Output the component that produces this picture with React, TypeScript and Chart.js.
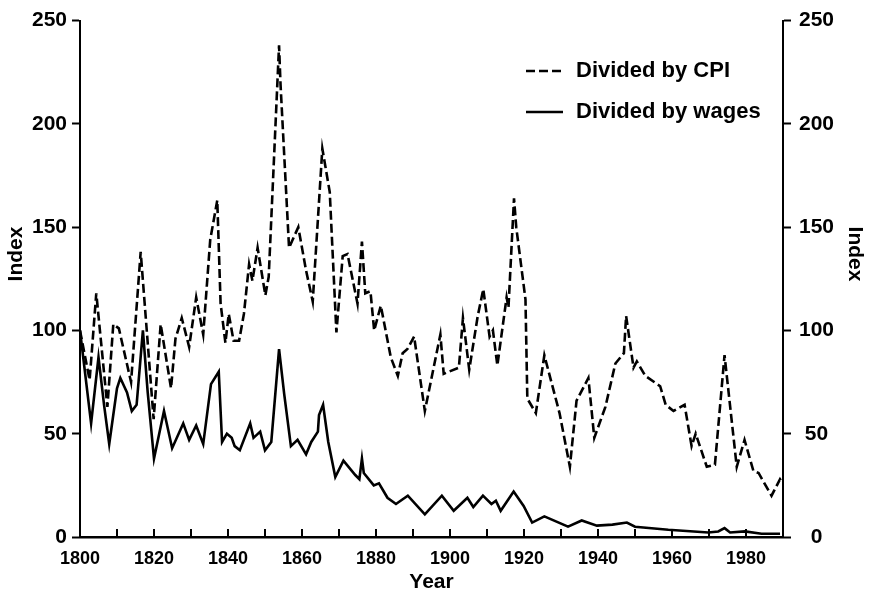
import React, { useEffect, useRef } from "react";
import { Chart, registerables } from "chart.js";

Chart.register(...registerables);

const cpiYears = [1800, 1802.6, 1804.4, 1807.4, 1809, 1810.5, 1813.8, 1816.4, 1819.9, 1821.8, 1824.6, 1825.8, 1827.5, 1829.5, 1831.4, 1833.3, 1835.2, 1837.1, 1838, 1839.3, 1840.2, 1841.5, 1843, 1844.3, 1845.7, 1846.6, 1848, 1850.1, 1851, 1853.8, 1854.2, 1856.5, 1859, 1861.1, 1862.9, 1865.5, 1867.5, 1869.3, 1871, 1872.3, 1875, 1876.2, 1877.1, 1878.5, 1879.5, 1881.3, 1884, 1885.9, 1887.2, 1888.5, 1890.3, 1893.2, 1897.4, 1898.3, 1902.4, 1903.5, 1905.2, 1907.5, 1909, 1910.7, 1911.6, 1912.8, 1915.3, 1915.8, 1917.3, 1917.9, 1920.4, 1920.9, 1923.2, 1925.5, 1929.6, 1932.4, 1934.2, 1937.4, 1939, 1942, 1944.7, 1947, 1947.6, 1949.6, 1950.5, 1952.8, 1956.8, 1958.3, 1960.4, 1963.4, 1965.3, 1966.4, 1969.4, 1971.6, 1974.2, 1977.5, 1979.6, 1982, 1983.4, 1986.9, 1989.2, 1990];
const cpiValues = [100, 76, 118, 63, 103, 101, 75, 138, 57, 103, 72, 96, 106, 92, 116, 98, 144, 163, 113, 94, 108, 95, 95, 108, 132, 124, 140, 117, 126, 238, 219, 140, 150, 129, 114, 188, 167, 99, 136, 137, 113, 143, 118, 119, 100, 112, 87, 78, 89, 91, 97, 61, 98, 79, 82, 106, 81, 107, 120, 97, 100, 83, 116, 111, 164, 150, 115, 67, 60, 88, 60, 34, 66, 77, 48, 63, 84, 89, 107, 82, 85, 78, 73, 64, 61, 64, 44, 50, 34, 35, 88, 34, 47, 32, 31, 20, 28, 26];

const wageYears = [1800, 1803, 1805, 1806.5, 1807.9, 1810, 1810.9, 1812.7, 1814, 1815.3, 1817, 1818.3, 1820, 1822.7, 1824.9, 1827.9, 1829.5, 1831.4, 1833.3, 1835.4, 1837.5, 1838.4, 1839.7, 1841, 1841.8, 1843.2, 1846, 1846.9, 1848.7, 1850, 1851.7, 1853.8, 1855.2, 1857, 1858.8, 1861.1, 1862.5, 1864.3, 1864.6, 1865.7, 1867.1, 1869, 1871.2, 1874.4, 1875.5, 1876.2, 1876.7, 1879.4, 1880.8, 1883.1, 1885.4, 1888.6, 1893.2, 1897.8, 1901, 1904.7, 1906.3, 1908.9, 1911.2, 1912.4, 1913.7, 1917.2, 1919.9, 1922.2, 1925.5, 1931.9, 1935.6, 1939.7, 1943.9, 1947.8, 1950, 1959, 1969.8, 1972.5, 1974.2, 1975.7, 1979.7, 1984.2, 1989.2];
const wageValues = [100, 55, 87, 64, 45, 72, 77, 70, 61, 64, 100, 70, 38, 61, 43, 55, 47, 54, 45, 74, 80, 46, 50, 48, 44, 42, 55, 48, 51, 42, 46, 91, 69, 44, 47, 40, 46, 51, 59, 64, 46, 29, 37, 30, 28, 38, 31, 25, 26, 19, 16, 20, 11, 20, 12.7, 19, 14.5, 20, 16, 17.6, 12.7, 22, 15, 7, 10, 5, 8, 5.5, 6, 7, 5, 3.5, 2.2, 2.7, 4.3, 2.2, 2.7, 1.6, 1.6];

const seriesLabels = ["Divided by CPI", "Divided by wages"];
const yTickValues = [0, 50, 100, 150, 200, 250];
const yTitle = "Index";
const xTitle = "Year";

const FONT = "'Liberation Sans', Arial, Helvetica, sans-serif";

const overlayPlugin = {
  id: "overlay",
  afterDraw(chart: any) {
    const ctx = chart.ctx;
    const xs = chart.scales.x;
    const area = chart.chartArea;
    ctx.save();
    // inward x ticks
    ctx.strokeStyle = "#000";
    ctx.lineWidth = 2;
    for (let v = 1810; v < 1990; v += 10) {
      const px = xs.getPixelForValue(v);
      ctx.beginPath();
      ctx.moveTo(px, area.bottom);
      ctx.lineTo(px, area.bottom - 8);
      ctx.stroke();
    }
    // legend
    const dsets = chart.data.datasets;
    const legendY = [71, 112];
    dsets.forEach((ds: any, i: number) => {
      const y = legendY[i];
      ctx.beginPath();
      ctx.setLineDash(ds.borderDash || []);
      ctx.lineWidth = 2.5;
      ctx.moveTo(526, y);
      ctx.lineTo(563, y);
      ctx.stroke();
      ctx.setLineDash([]);
      ctx.fillStyle = "#000";
      ctx.font = `bold 22px ${FONT}`;
      ctx.textBaseline = "middle";
      ctx.textAlign = "left";
      ctx.fillText(ds.label, 576, y);
    });
    // y titles
    ctx.font = `bold 21px ${FONT}`;
    ctx.textAlign = "center";
    ctx.textBaseline = "middle";
    const cy = 254;
    ctx.save();
    ctx.translate(16, cy);
    ctx.rotate(-Math.PI / 2);
    ctx.fillText(yTitle, 0, 0);
    ctx.restore();
    ctx.save();
    ctx.translate(855, cy);
    ctx.rotate(Math.PI / 2);
    ctx.fillText(yTitle, 0, 0);
    ctx.restore();
    ctx.restore();
  },
};

export default function App() {
  const ref = useRef<HTMLCanvasElement | null>(null);
  useEffect(() => {
    document.body.style.margin = "0";
    const canvas = ref.current;
    if (!canvas) return;
    const cpiData = cpiYears.map((x, i) => ({ x, y: cpiValues[i] }));
    const wageData = wageYears.map((x, i) => ({ x, y: wageValues[i] }));
    const yTicks = {
      stepSize: 50,
      color: "#000",
      font: { family: FONT, size: 21, weight: "bold" },
    };
    const chart = new Chart(canvas, {
      type: "line",
      data: {
        datasets: [
          {
            label: seriesLabels[0],
            data: cpiData,
            borderColor: "#000",
            borderWidth: 2.6,
            borderDash: [9, 4],
            pointRadius: 0,
            tension: 0,
            fill: false,
          },
          {
            label: seriesLabels[1],
            data: wageData,
            borderColor: "#000",
            borderWidth: 2.6,
            pointRadius: 0,
            tension: 0,
            fill: false,
          },
        ],
      },
      options: {
        animation: false,
        responsive: false,
        layout: { padding: { top: 19, right: 0, left: 0, bottom: 0 } },
        plugins: {
          legend: { display: false },
          tooltip: { enabled: false },
        },
        scales: {
          x: {
            type: "linear",
            position: "bottom",
            min: 1800,
            max: 1990,
            afterBuildTicks: (s: any) => {
              const t = [];
              for (let v = 1800; v <= 1990; v += 10) t.push({ value: v });
              s.ticks = t;
            },
            ticks: {
              autoSkip: false,
              maxRotation: 0,
              padding: 11,
              color: "#000",
              font: { family: FONT, size: 18, weight: "bold" },
              callback: (v: any) => (v % 20 === 0 && v < 1990 ? String(v) : ""),
            },
            grid: { display: true, drawOnChartArea: false, drawTicks: false, color: "#000" },
            border: { display: true, color: "#000", width: 2.5 },
            title: {
              display: true,
              text: xTitle,
              color: "#000",
              font: { family: FONT, size: 21, weight: "bold" },
              padding: { top: 0, bottom: 3 },
            },
            afterFit: (s: any) => {
              s.height = 61;
            },
          },
          y: {
            position: "left",
            min: 0,
            max: 250,
            afterBuildTicks: (s: any) => {
              s.ticks = yTickValues.map((v) => ({ value: v }));
            },
            ticks: { ...yTicks, padding: 5 },
            grid: { drawOnChartArea: false, tickLength: 8, tickWidth: 2, tickColor: "#000" },
            border: { display: true, color: "#000", width: 2 },
            afterFit: (s: any) => {
              s.width = 80;
            },
          },
          y2: {
            position: "right",
            display: true,
            min: 0,
            max: 250,
            afterBuildTicks: (s: any) => {
              s.ticks = yTickValues.map((v) => ({ value: v }));
            },
            ticks: { ...yTicks, padding: 8, crossAlign: "center" },
            grid: { drawOnChartArea: false, tickLength: 8, tickWidth: 2, tickColor: "#000" },
            border: { display: true, color: "#000", width: 2 },
            afterFit: (s: any) => {
              s.width = 88;
            },
          },
        },
      } as any,
      plugins: [overlayPlugin],
    });
    return () => chart.destroy();
  }, []);
  return (
    <div style={{ width: 871, height: 598, background: "#fff" }}>
      <canvas ref={ref} width={871} height={598} style={{ display: "block" }} />
    </div>
  );
}
